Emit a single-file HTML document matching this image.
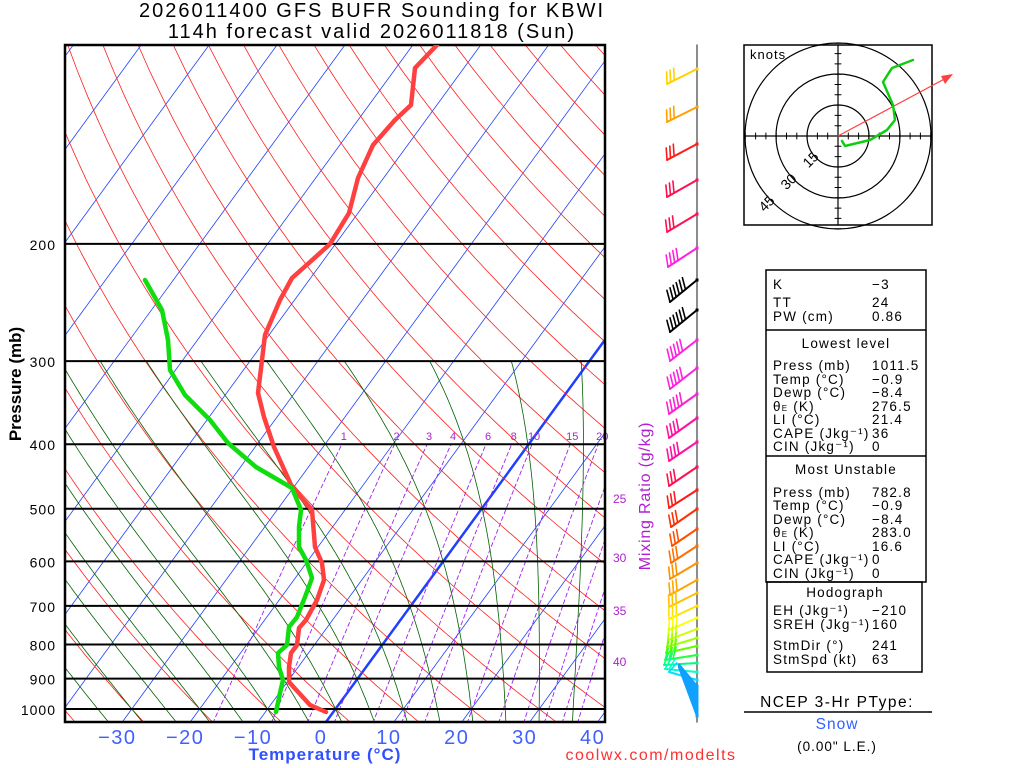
<!DOCTYPE html>
<html><head><meta charset="utf-8"><style>
html,body{margin:0;padding:0;background:#fff;overflow:hidden;}
svg{display:block;font-family:"Liberation Sans",sans-serif;}
</style></head><body>
<svg id="s" width="1024" height="768" viewBox="0 0 1024 768" xmlns="http://www.w3.org/2000/svg">
<defs><clipPath id="c"><rect x="65" y="45" width="540" height="677"/></clipPath></defs>
<g id="bg" clip-path="url(#c)"></g>
<g id="fg"></g>
<text x="372" y="17" font-size="20" text-anchor="middle" letter-spacing="2">2026011400 GFS BUFR Sounding for KBWI</text>
<text x="372" y="38" font-size="20" text-anchor="middle" letter-spacing="2">114h forecast valid 2026011818 (Sun)</text>
<text transform="translate(21,384) rotate(-90)" font-size="17" text-anchor="middle" font-weight="bold">Pressure (mb)</text>
<text x="325" y="760" font-size="17" text-anchor="middle" fill="#3050ff" font-weight="bold" letter-spacing="1">Temperature (°C)</text>
<text x="651" y="760" font-size="16" text-anchor="middle" fill="#ff3030" letter-spacing="1.5">coolwx.com/modelts</text>
<text transform="translate(650,496) rotate(-90)" font-size="16" text-anchor="middle" fill="#b020d0" letter-spacing="0.8">Mixing Ratio (g/kg)</text>
<g font-size="12" fill="#b020d0"><text x="613" y="503">25</text><text x="613" y="562">30</text><text x="613" y="615">35</text><text x="613" y="666">40</text></g>
<g font-size="13.5" fill="#000" letter-spacing="1.2">
<rect x="766" y="270" width="160" height="312" fill="none" stroke="#000" stroke-width="1.5"/>
<line x1="766" y1="330" x2="926" y2="330" stroke="#000" stroke-width="1.5"/>
<line x1="766" y1="456" x2="926" y2="456" stroke="#000" stroke-width="1.5"/>
<rect x="767" y="582" width="155" height="90" fill="none" stroke="#000" stroke-width="1.5"/>
<text x="773" y="289">K</text><text x="872" y="289">−3</text>
<text x="773" y="307">TT</text><text x="872" y="307">24</text>
<text x="773" y="321">PW (cm)</text><text x="872" y="321">0.86</text>
<text x="846" y="348" text-anchor="middle">Lowest level</text>
<text x="773" y="370">Press (mb)</text><text x="872" y="370">1011.5</text>
<text x="773" y="384">Temp (°C)</text><text x="872" y="384">−0.9</text>
<text x="773" y="397">Dewp (°C)</text><text x="872" y="397">−8.4</text>
<text x="773" y="411">θ<tspan font-size="8">E</tspan> (K)</text><text x="872" y="411">276.5</text>
<text x="773" y="424">LI (°C)</text><text x="872" y="424">21.4</text>
<text x="773" y="438">CAPE (Jkg⁻¹)</text><text x="872" y="438">36</text>
<text x="773" y="451">CIN (Jkg⁻¹)</text><text x="872" y="451">0</text>
<text x="846" y="474" text-anchor="middle">Most Unstable</text>
<text x="773" y="497">Press (mb)</text><text x="872" y="497">782.8</text>
<text x="773" y="510">Temp (°C)</text><text x="872" y="510">−0.9</text>
<text x="773" y="524">Dewp (°C)</text><text x="872" y="524">−8.4</text>
<text x="773" y="537">θ<tspan font-size="8">E</tspan> (K)</text><text x="872" y="537">283.0</text>
<text x="773" y="551">LI (°C)</text><text x="872" y="551">16.6</text>
<text x="773" y="564">CAPE (Jkg⁻¹)</text><text x="872" y="564">0</text>
<text x="773" y="578">CIN (Jkg⁻¹)</text><text x="872" y="578">0</text>
<text x="845" y="597" text-anchor="middle">Hodograph</text>
<text x="773" y="615">EH (Jkg⁻¹)</text><text x="872" y="615">−210</text>
<text x="773" y="629">SREH (Jkg⁻¹)</text><text x="872" y="629">160</text>
<text x="773" y="650">StmDir (°)</text><text x="872" y="650">241</text>
<text x="773" y="664">StmSpd (kt)</text><text x="872" y="664">63</text>
</g>
<text x="837" y="707" font-size="15.5" text-anchor="middle" letter-spacing="1.5">NCEP 3-Hr PType:</text>
<line x1="744" y1="712" x2="932" y2="712" stroke="#000" stroke-width="1.5"/>
<text x="837" y="729" font-size="15.5" text-anchor="middle" fill="#3060ff" letter-spacing="1">Snow</text>
<text x="837" y="751" font-size="13.5" text-anchor="middle" letter-spacing="1">(0.00" L.E.)</text>
</svg>
<script>
var NS="http://www.w3.org/2000/svg",bg=document.getElementById('bg'),fg=document.getElementById('fg');
function el(p,t,a,txt){var e=document.createElementNS(NS,t);for(var k in a)e.setAttribute(k,a[k]);if(txt!==undefined)e.textContent=txt;p.appendChild(e);return e;}
function Y(p){return 709+289*Math.log(p/1000);}
function X(T,y){return 326+6.79*T+0.73*(722-y);}
function line(g,pts,col,w,dash){var d='';pts.forEach(function(q,i){d+=(i?'L':'M')+q[0].toFixed(1)+' '+q[1].toFixed(1);});var a={d:d,fill:'none',stroke:col,'stroke-width':w,'stroke-linejoin':'round','stroke-linecap':'round'};if(dash)a['stroke-dasharray']=dash;el(g,'path',a);}
for(var T=-150;T<=50;T+=10){line(bg,[[X(T,722),722],[X(T,45),45]],'#2040ff',T==0?2.5:0.8);}
for(var th=173.15;th<=650;th+=10){var pts=[];for(var p=1050;p>=95;p-=10){var t=th*Math.pow(p/1000,0.286)-273.15,y=Y(p);pts.push([X(t,y),y]);}line(bg,pts,'#ff2020',0.8);}
function es(t){return 6.112*Math.exp(17.67*t/(t+243.5));}
function grad(t,pp){var T=t+273.15,ws=0.622*es(t)/(pp-es(t));return (287*T+2.5e6*ws)/(1004+2.5e6*2.5e6*ws*0.622/(287*T*T))/pp;}
for(var t0=-35;t0<=40;t0+=5){var t=t0,seg=[],pp;
 for(pp=1000;pp>=300;pp-=5){var y=Y(pp);seg.push([X(t,y),y]);t-=grad(t,pp)*5;}
 var tb=t0,down=[];
 for(pp=1000;pp<=1050;pp+=5){var y=Y(pp);down.push([X(tb,y),y]);tb+=grad(tb,pp)*5;}
 line(bg,down.reverse().concat(seg),'#006000',0.8);}
var ws=[1,2,3,4,6,8,10,15,20,25,30,35,40];
ws.forEach(function(w){var pts=[];for(var p=1050;p>=400;p-=10){var e=w*p/(622+w);var l=Math.log(e/6.112);var t=243.5*l/(17.67-l);var y=Y(p);pts.push([X(t,y),y]);}line(bg,pts,'#a020f0',0.9,'4,3');
 if(w<=20){var q=pts[pts.length-1];el(fg,'text',{x:q[0]+(w==20?4:2),y:440,'font-size':11,fill:'#b020d0','text-anchor':'middle'},String(w));}});
[200,300,400,500,600,700,800,900,1000].forEach(function(p){var y=Y(p);line(fg,[[65,y],[605,y]],'#000',2);el(fg,'text',{x:56,y:y+6,'font-size':14,'text-anchor':'end','letter-spacing':1},String(p));});
el(fg,'rect',{x:65,y:45,width:540,height:677,fill:'none',stroke:'#000','stroke-width':2.5});
for(var T=-30;T<=40;T+=10){el(fg,'text',{x:326+6.79*T-5,y:744,'font-size':20,'text-anchor':'middle',fill:'#4060ff','letter-spacing':1.5},(T<0?'−':'')+Math.abs(T));}
var tp=[[437,45],[415,68],[411,105],[395,120],[373,145],[358,178],[349,213],[330,244],[310,262],[292,278],[280,300],[265,335],[262,360],[258,393],[264,417],[274,447],[292,487],[312,510],[315,547],[322,563],[324,580],[317,600],[306,620],[299,628],[297,645],[291,653],[289,667],[289,682],[310,705],[326,712]];
var dp=[[145,280],[162,310],[168,340],[170,370],[185,395],[190,400],[210,420],[228,443],[256,467],[292,488],[301,510],[299,527],[299,547],[306,560],[312,578],[305,597],[297,617],[289,627],[287,645],[278,653],[279,667],[283,680],[280,693],[276,712]];
var pg=el(fg,'g',{'clip-path':'url(#c)'});
line(pg,tp,'#ff4040',4.5);line(pg,dp,'#10dd10',4.5);
line(fg,[[697,45],[697,722]],'#666',1.5);
var barbs=[[69,'#ffd000',-30,15,3],[107,'#ffa000',-30,15,3],[144,'#ff1a1a',-30,16,3],[180,'#ff1050',-30,17,3],[214,'#ff1050',-30,18,3],[248,'#ff20e0',-29,19,4],[280,'#000',-27,22,6],[310,'#000',-27,22,6],[340,'#ff20e0',-27,21,5],[368,'#ff20e0',-27,21,5],[394,'#ff20d0',-28,20,5],[418,'#ff10a0',-28,20,4],[442,'#ff10a0',-28,19,4],[467,'#ff1050',-28,19,3],[490,'#ff1a1a',-28,18,3],[509,'#ff3000',-26,18,3],[529,'#ff5000',-25,17,3],[546,'#ff7000',-26,17,3],[563,'#ff9000',-27,16,3],[580,'#ffa500',-27,15,3],[593,'#ffc000',-28,14,3],[606,'#ffe000',-28,13,3],[618,'#ffff00',-28,12,3],[629,'#d0ff00',-29,11,3],[638,'#a0ff00',-30,9,3],[646,'#60ff00',-31,7,3],[655,'#20ff40',-32,5,3],[663,'#00ff80',-33,2,2],[672,'#00ffc0',-32,-3,2],[680,'#00e0ff',-28,-8,1]];
for(var y=686;y<=716;y+=3)barbs.push([y,'#10a0ff',-18,-(y-662)*0.9,0]);
barbs.forEach(function(b){var y=b[0],x2=697+b[2],y2=y+b[3];line(fg,[[697,y],[x2,y2]],b[1],2);
 var L=Math.hypot(b[2],b[3]),ux=b[2]/L,uy=b[3]/L,px=uy,py=-ux; if(py>0){px=-px;py=-py;}
 for(var i=0;i<b[4];i++){var bx=x2-ux*i*4,by=y2-uy*i*4;line(fg,[[bx,by],[bx+px*11-ux*5,by+py*11-uy*5]],b[1],1.6);}
 el(fg,'rect',{x:695.5,y:y-1.5,width:3,height:3,fill:b[1]});});
var hx=838,hy=136;
el(fg,'rect',{x:744,y:45,width:188,height:180,fill:'none',stroke:'#000','stroke-width':1.5});
[31,62,93].forEach(function(r){el(fg,'circle',{cx:hx,cy:hy,r:r,fill:'none',stroke:'#000','stroke-width':1.2});});
line(fg,[[744,hy],[932,hy]],'#000',1.2);line(fg,[[hx,45],[hx,225]],'#000',1.2);
for(var k=-9;k<=9;k++){if(!k)continue;var d=k*10.3;line(fg,[[hx+d,hy-3],[hx+d,hy+3]],'#000',1);line(fg,[[hx-3,hy+d],[hx+3,hy+d]],'#000',1);}
el(fg,'text',{x:750,y:59,'font-size':13,'letter-spacing':1},'knots');
[['15',22],['30',44],['45',66]].forEach(function(a){el(fg,'text',{transform:'translate('+(hx-a[1]-2)+','+(hy+a[1]+5)+') rotate(-45)','font-size':14,'text-anchor':'middle'},a[0]);});
line(fg,[[hx,hy],[950,76]],'#ff4040',1.2);
el(fg,'path',{d:'M953 74 L941 76 L945 84 Z',fill:'#ff4040'});
line(fg,[[842,141],[845,146],[870,140],[887,130],[895,120],[893,105],[883,82],[892,68],[913,60]],'#10cc10',2.5);
</script>
</body></html>
